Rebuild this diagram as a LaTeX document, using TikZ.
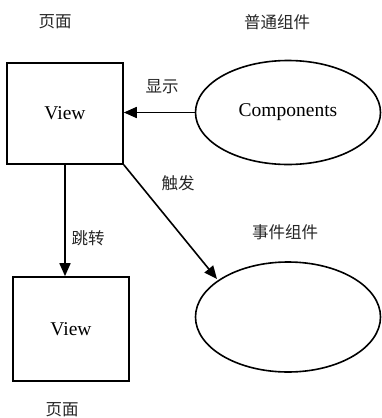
\documentclass[tikz,border=0pt]{standalone}
\usepackage{fontspec}
\setmainfont{Liberation Serif}
\newfontfamily\cjk{Noto Sans CJK SC}
\usetikzlibrary{arrows.meta,shapes.geometric}
\begin{document}
\begin{tikzpicture}[x=1pt,y=-1pt,
  boxnode/.style={draw,line width=1.6pt,minimum width=116pt,inner sep=0pt,font=\fontsize{19.5}{21}\selectfont},
  ellnode/.style={draw,ellipse,line width=1.6pt,minimum width=185pt,inner sep=0pt,font=\fontsize{19.5}{21}\selectfont},
  lbl/.style={font=\cjk\fontsize{16.5}{18}\selectfont,text=black!85},
  arr/.style={line width=1.6pt,-{Triangle[length=13pt,width=11pt]}}]
\useasboundingbox (0,0) rectangle (382,418);
\node[boxnode,minimum height=101pt] (v1) at (65,113.5) {View};
\node[ellnode,minimum height=104pt] (c1) at (288,112.5) {Components};
\node[boxnode,minimum height=104pt] (v2) at (71,329) {View};
\node[ellnode,minimum height=110pt] (c2) at (288,317) {};
\coordinate (t2) at (217,279);
\node[lbl] (l1) at (55,22) {页面};
\node[lbl] (l2) at (277,22) {普通组件};
\node[lbl] (l3) at (162,87) {显示};
\node[lbl] (l4) at (178,183) {触发};
\node[lbl] (l5) at (88,238) {跳转};
\node[lbl] (l6) at (285,232) {事件组件};
\node[lbl] (l7) at (62,410) {页面};
\draw[arr] (c1.west) -- (c1.west -| v1.east);
\draw[arr] (v1.south) -- (v1.south |- v2.north);
\draw[arr] (v1.south east) -- (t2);
\end{tikzpicture}
\end{document}
